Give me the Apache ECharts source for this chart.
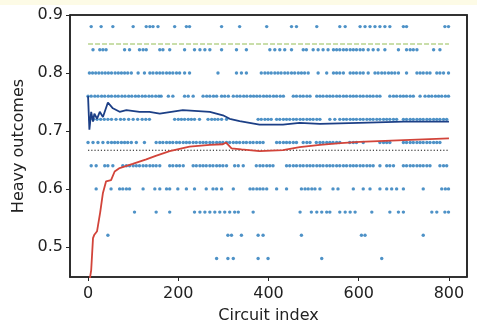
<!DOCTYPE html>
<html>
<head>
<meta charset="utf-8">
<script src="https://cdn.jsdelivr.net/npm/echarts@6/dist/echarts.min.js"></script>
<style>
  html, body { margin: 0; padding: 0; background: #fff; }
  #chart { width: 477px; height: 321px; }
</style>
</head>
<body>
<div id="chart"></div>
<script>
// heavy-output probability levels and the circuit indices found on each level
const levels = [0.88, 0.84, 0.80, 0.76, 0.72, 0.68, 0.64, 0.60, 0.56, 0.52, 0.48];
const row088 = [7, 29, 55, 100, 129, 137, 144, 155, 192, 218, 225, 296, 336, 396, 451, 462, 507, 558, 570, 603, 614, 625, 636, 647, 658, 669, 699, 706, 791, 799];
const row084 = [11, 26, 33, 40, 81, 92, 114, 122, 129, 159, 166, 181, 214, 236, 248, 259, 270, 296, 329, 351, 403, 414, 425, 436, 451, 477, 484, 499, 510, 521, 532, 544, 551, 558, 566, 573, 581, 588, 595, 603, 610, 621, 632, 643, 658, 688, 706, 714, 721, 729, 766, 780];
const row080 = [3, 10, 17, 24, 31, 38, 45, 52, 60, 67, 74, 81, 88, 96, 111, 125, 137, 144, 152, 159, 166, 174, 181, 188, 196, 203, 214, 225, 288, 329, 340, 351, 384, 392, 399, 406, 414, 421, 428, 436, 443, 451, 458, 466, 473, 480, 488, 510, 529, 544, 551, 558, 566, 581, 588, 595, 603, 610, 621, 636, 643, 651, 658, 666, 673, 680, 688, 706, 729, 736, 743, 751, 758, 773, 780, 788, 799];
const row076 = [0, 7, 15, 22, 30, 37, 45, 52, 60, 67, 75, 82, 90, 97, 105, 112, 120, 127, 135, 142, 150, 157, 162, 178, 188, 214, 222, 233, 255, 263, 270, 278, 285, 296, 303, 311, 322, 330, 337, 345, 352, 360, 367, 374, 381, 389, 396, 403, 411, 418, 426, 433, 455, 462, 470, 477, 485, 492, 507, 514, 521, 529, 536, 543, 551, 558, 566, 573, 581, 588, 595, 603, 610, 618, 625, 632, 640, 647, 669, 677, 684, 692, 699, 706, 714, 721, 736, 747, 755, 762, 770, 777, 784, 792, 799];
const row072 = [4, 12, 20, 28, 36, 44, 52, 62, 72, 80, 90, 100, 110, 120, 128, 136, 192, 200, 207, 214, 222, 229, 236, 247, 266, 274, 281, 288, 296, 307, 377, 384, 392, 399, 406, 418, 425, 433, 440, 447, 455, 462, 470, 477, 485, 492, 499, 507, 514, 536, 547, 558, 566, 573, 581, 588, 595, 603, 610, 618, 625, 632, 640, 647, 655, 662, 669, 677, 684, 699, 706, 714, 721, 729, 736, 743, 751, 758, 766, 773, 780, 788, 795];
const row068 = [0, 11, 22, 33, 44, 52, 59, 66, 74, 81, 88, 96, 107, 125, 151, 159, 166, 174, 181, 188, 196, 203, 211, 218, 225, 233, 240, 248, 255, 262, 270, 277, 285, 292, 299, 307, 314, 322, 329, 336, 344, 351, 359, 366, 374, 381, 388, 418, 425, 433, 440, 447, 455, 462, 477, 485, 492, 506, 514, 521, 529, 536, 543, 551, 558, 580, 588, 595, 610, 647, 655, 662, 669, 699, 706, 714, 721, 729, 736, 743, 751, 758, 766, 773, 780];
const row064 = [7, 18, 37, 44, 55, 77, 85, 92, 100, 107, 114, 122, 129, 137, 144, 151, 159, 181, 188, 196, 203, 211, 233, 240, 248, 255, 262, 270, 277, 285, 292, 299, 307, 325, 333, 344, 373, 381, 388, 396, 403, 410, 440, 447, 455, 462, 470, 477, 485, 492, 499, 507, 514, 521, 529, 536, 543, 551, 558, 566, 573, 581, 588, 595, 603, 610, 618, 625, 632, 647, 662, 669, 677, 699, 706, 714, 721, 729, 736, 743, 751, 758, 780, 788, 795];
const row060 = [18, 51, 70, 77, 85, 92, 122, 148, 159, 174, 181, 199, 218, 236, 262, 277, 285, 296, 322, 359, 366, 374, 381, 388, 396, 418, 440, 473, 481, 488, 496, 503, 514, 543, 554, 588, 610, 625, 647, 662, 673, 684, 699, 743, 784, 792, 799];
const row056 = [103, 151, 181, 236, 248, 259, 270, 281, 292, 303, 314, 325, 333, 366, 470, 495, 507, 518, 529, 536, 558, 570, 581, 592, 629, 669, 688, 699, 762, 773, 791, 799];
const row052 = [44, 310, 318, 340, 377, 388, 473, 606, 614, 743];
const row048 = [285, 310, 322, 377, 399, 518, 651];
const rows = [row088, row084, row080, row076, row072, row068, row064, row060, row056, row052, row048];

// running heavy-output mean (blue) and cumulative estimate (red)
const meanX = [0, 2, 3, 7, 11, 14, 20, 26, 33, 44, 55, 70, 85, 114, 136, 159, 210, 270, 299, 314, 336, 380, 432, 469, 514, 600, 700, 800];
const meanY = [0.76, 0.759, 0.702, 0.733, 0.716, 0.730, 0.721, 0.733, 0.724, 0.749, 0.739, 0.733, 0.736, 0.733, 0.733, 0.730, 0.736, 0.733, 0.727, 0.721, 0.717, 0.711, 0.711, 0.714, 0.712, 0.714, 0.716, 0.716];
const cumX = [3, 7, 11, 14, 20, 27, 33, 40, 51, 59, 70, 99, 129, 150, 181, 225, 270, 299, 306, 318, 340, 380, 432, 469, 514, 560, 602, 700, 800];
const cumY = [0.44, 0.46, 0.515, 0.521, 0.527, 0.56, 0.593, 0.613, 0.615, 0.630, 0.636, 0.643, 0.651, 0.657, 0.665, 0.673, 0.676, 0.677, 0.680, 0.670, 0.668, 0.665, 0.667, 0.672, 0.676, 0.679, 0.681, 0.684, 0.687];

const idealLevel = 0.85;
const thresholdLevel = 2 / 3;
const xTicks = [0, 200, 400, 600, 800];
const yTicks = [0.5, 0.6, 0.7, 0.8, 0.9];

const points = [];
rows.forEach((row, i) => {
  row.forEach((x) => points.push([x, levels[i]]));
});

const W = 477;
const H = 321;
const gridBox = { left: 70, right: 10, top: 15, bottom: 44 };
const x0 = gridBox.left;
const x1 = W - gridBox.right;
const y0 = gridBox.top;
const y1 = H - gridBox.bottom;

const chart = echarts.init(document.getElementById("chart"), null, { renderer: "canvas" });

const axisColor = "#262626";
const textColor = "#222";
const font = "DejaVu Sans";
const spine = { show: true, onZero: false, lineStyle: { color: axisColor, width: 1.6 } };

const option = {
  backgroundColor: "#fff",
  animation: false,
  graphic: {
    elements: [
      {
        type: "rect",
        shape: { x: 0, y: 0, width: W, height: 5 },
        style: { fill: "#fdfbe6" },
        silent: true,
      },
      {
        // top and right spines of the matplotlib-style box
        type: "polyline",
        shape: { points: [[x0, y0], [x1, y0], [x1, y1]] },
        style: { fill: null, stroke: axisColor, lineWidth: 1.6 },
        silent: true,
        z: 100,
      },
    ],
  },
  grid: {
    ...gridBox,
    outerBoundsMode: "none",
    show: true,
    borderColor: axisColor,
    borderWidth: 1.6,
    backgroundColor: "rgba(0,0,0,0)",
  },
  xAxis: {
    type: "value",
    min: -40,
    max: 840,
    name: "Circuit index",
    nameLocation: "middle",
    nameGap: 31,
    nameTextStyle: { color: textColor, fontSize: 16, fontFamily: font },
    splitLine: { show: false },
    axisLine: spine,
    axisTick: { show: true, length: 4, customValues: xTicks, lineStyle: { color: axisColor } },
    axisLabel: {
      customValues: xTicks,
      color: textColor,
      fontSize: 16,
      fontFamily: font,
      margin: 9,
    },
  },
  yAxis: {
    type: "value",
    min: 0.448,
    max: 0.9,
    name: "Heavy outcomes",
    nameLocation: "middle",
    nameGap: 42,
    nameTextStyle: { color: textColor, fontSize: 16, fontFamily: font },
    splitLine: { show: false },
    axisLine: spine,
    axisTick: { show: true, length: 4, customValues: yTicks, lineStyle: { color: axisColor } },
    axisLabel: {
      customValues: yTicks,
      color: textColor,
      fontSize: 16,
      fontFamily: font,
      margin: 7,
      formatter: (v) => v.toFixed(1),
    },
  },
  series: [
    {
      type: "scatter",
      data: points,
      symbolSize: 3.4,
      itemStyle: { color: "#2f7fbd", opacity: 0.85 },
      z: 2,
    },
    {
      type: "line",
      data: [[0, idealLevel], [800, idealLevel]],
      showSymbol: false,
      lineStyle: { color: "#93bd55", width: 1.2, type: [5, 2] },
      z: 3,
    },
    {
      type: "line",
      data: [[0, thresholdLevel], [800, thresholdLevel]],
      showSymbol: false,
      lineStyle: { color: "#111", width: 1.2, type: [1.2, 2] },
      z: 3,
    },
    {
      type: "line",
      data: meanX.map((x, i) => [x, meanY[i]]),
      showSymbol: false,
      clip: true,
      lineStyle: { color: "#1c3f86", width: 1.8 },
      z: 4,
    },
    {
      type: "line",
      data: cumX.map((x, i) => [x, cumY[i]]),
      showSymbol: false,
      clip: true,
      lineStyle: { color: "#d2443a", width: 1.8 },
      z: 4,
    },
  ],
};

chart.setOption(option);
</script>
</body>
</html>
